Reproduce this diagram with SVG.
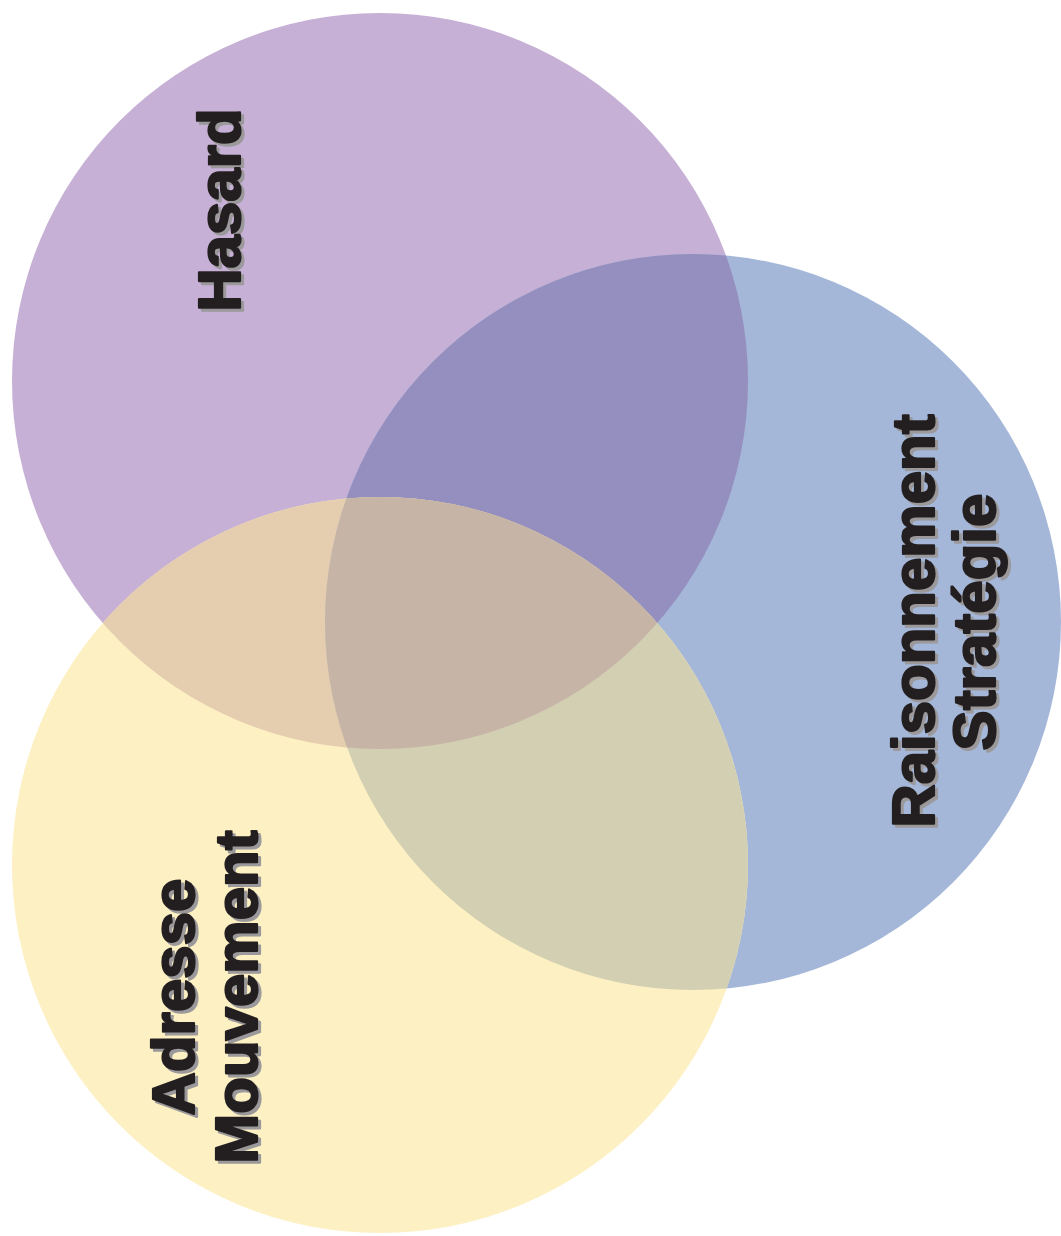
<svg xmlns="http://www.w3.org/2000/svg" width="1061" height="1236" viewBox="0 0 1061 1236">
<style>
.lbl{font-family:"Liberation Sans",Arial,sans-serif;font-weight:bold;font-size:60px;text-anchor:middle}
.ink{fill:#231f20;stroke:#231f20;stroke-width:2.2;stroke-linejoin:round}
.shd{fill:#9b999b;stroke:#9b999b;stroke-width:2.2;stroke-linejoin:round}
</style>
<defs>
<circle id="cP" cx="380" cy="381" r="368"/>
<circle id="cB" cx="693" cy="622" r="368"/>
<circle id="cY" cx="380" cy="865" r="368"/>
<clipPath id="clipP"><use href="#cP"/></clipPath>
<clipPath id="clipB"><use href="#cB"/></clipPath>
<clipPath id="clipY"><use href="#cY"/></clipPath>
</defs>
<rect width="1061" height="1236" fill="#ffffff"/>
<g id="circles">
<use href="#cP" fill="#c7b0d5"/>
<use href="#cB" fill="#a4b7d8"/>
<use href="#cY" fill="#fdf0c2"/>
<g clip-path="url(#clipP)"><use href="#cB" fill="#958fbf"/></g>
<g clip-path="url(#clipP)"><use href="#cY" fill="#e5cdb0"/></g>
<g clip-path="url(#clipB)"><use href="#cY" fill="#d3cfb3"/></g>
<g clip-path="url(#clipP)"><g clip-path="url(#clipB)"><use href="#cY" fill="#c6b4a7"/></g></g>
</g>
<g id="node-hasard">
<text class="lbl shd" transform="translate(243,213) rotate(-90)">Hasard</text>
<text class="lbl ink" transform="translate(240,210) rotate(-90)">Hasard</text>
</g>
<g id="node-raisonnement">
<text class="lbl shd" transform="translate(937,624) rotate(-90)">Raisonnement</text>
<text class="lbl ink" transform="translate(934,621) rotate(-90)">Raisonnement</text>
<text class="lbl shd" transform="translate(998,625) rotate(-90)">Stratégie</text>
<text class="lbl ink" transform="translate(995,622) rotate(-90)">Stratégie</text>
</g>
<g id="node-adresse">
<text class="lbl shd" transform="translate(197,1000) rotate(-90)">Adresse</text>
<text class="lbl ink" transform="translate(194,997) rotate(-90)">Adresse</text>
<text class="lbl shd" transform="translate(260,1000) rotate(-90)">Mouvement</text>
<text class="lbl ink" transform="translate(257,997) rotate(-90)">Mouvement</text>
</g>
</svg>
